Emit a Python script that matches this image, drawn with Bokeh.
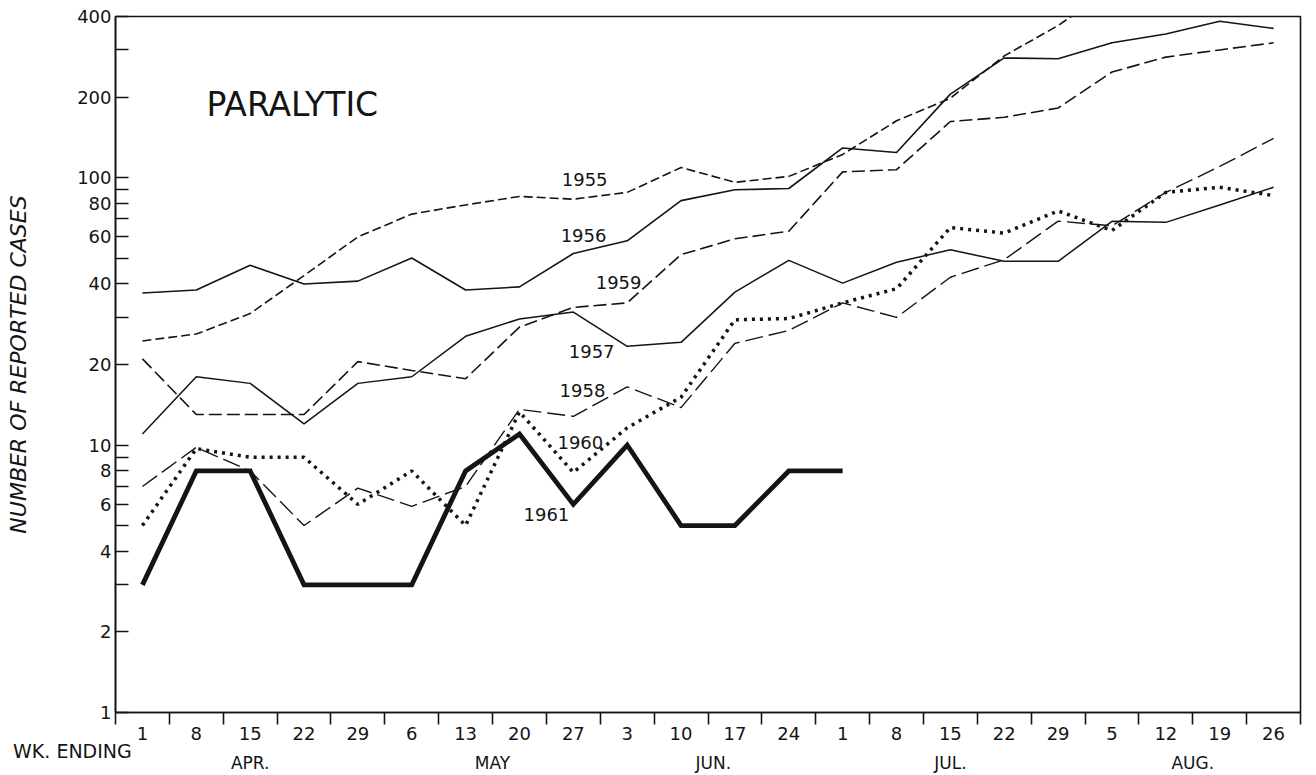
from bokeh.plotting import figure
from bokeh.models import FixedTicker, LinearAxis, Label, Range1d, NumeralTickFormatter
from bokeh.core.properties import value
from bokeh.embed import file_html
from bokeh.resources import INLINE

# ---- data ----
weeks = ["1", "8", "15", "22", "29", "6", "13", "20", "27", "3", "10", "17",
         "24", "1", "8", "15", "22", "29", "5", "12", "19", "26"]
months = ["APR.", "MAY", "JUN.", "JUL.", "AUG."]
month_pos = [2, 6.5, 10.6, 15, 19.5]

y1955 = [24.5, 26, 31, 43, 60, 73, 79, 85, 83, 88, 109, 96, 101, 122, 163, 198, 285, 370, 510]
y1956 = [37, 38, 47, 40, 41, 50, 38, 39, 52, 58, 82, 90, 91, 129, 124, 205, 280, 278, 319, 344, 384, 361]
y1957 = [11, 18, 17, 12, 17, 18, 25.5, 29.6, 31.4, 23.4, 24.2, 37.3, 49, 40.3, 48.2, 53.7, 48.6, 48.6, 68.6, 68, 79, 92]
y1958 = [7, 9.8, 8, 5, 6.9, 5.9, 7, 13.6, 12.8, 16.5, 13.8, 24, 26.8, 34, 30, 42.4, 49.3, 68.7, 66, 88, 110, 140]
y1959 = [21, 13, 13, 13, 20.5, 19, 17.7, 27.6, 32.7, 34, 51.5, 59, 63, 105, 107, 162, 168, 182, 248, 282, 300, 319]
y1960 = [5, 9.7, 9, 9, 6, 8, 5, 13.3, 7.9, 11.6, 15.1, 29.4, 29.7, 34, 38.4, 65, 62, 75, 63.4, 88, 92, 85.6]
y1961 = [3, 8, 8, 3, 3, 3, 8, 11, 6, 10, 5, 5, 8, 8]

y_major = [1, 2, 4, 6, 8, 10, 20, 40, 60, 80, 100, 200, 400]
y_minor = [3, 5, 7, 9, 30, 50, 70, 90, 300]

year_names = ["1955", "1956", "1959", "1957", "1958", "1960", "1961"]
year_lx = [8.21, 8.19, 8.84, 8.34, 8.17, 8.13, 7.50]
year_ly = [98, 60.7, 40.5, 22.4, 16, 10.2, 5.5]

FONT = "DejaVu Sans"
INK = "#141414"

p = figure(width=1316, height=775, y_axis_type="log",
           x_range=Range1d(-0.5, 21.5), y_range=Range1d(1, 400),
           output_backend="svg", toolbar_location=None,
           min_border_left=115, min_border_right=16, min_border_top=16, min_border_bottom=63)
p.grid.visible = False
p.background_fill_color = "white"
p.border_fill_color = "white"
p.outline_line_color = INK
p.outline_line_width = 1.6

# y axis
ya = p.yaxis[0]
ya.ticker = FixedTicker(ticks=y_major, minor_ticks=y_minor)
ya.formatter = NumeralTickFormatter(format="0")
ya.major_tick_in = 13
ya.major_tick_out = 0
ya.minor_tick_in = 13
ya.minor_tick_out = 0
ya.major_tick_line_width = 1.6
ya.minor_tick_line_width = 1.6
ya.major_tick_line_color = INK
ya.minor_tick_line_color = INK
ya.axis_line_width = 1.6
ya.axis_line_color = INK
ya.major_label_standoff = 4
ya.major_label_text_font = FONT
ya.major_label_text_font_size = "18px"
ya.major_label_text_color = INK
ya.axis_label = "NUMBER OF REPORTED CASES"
ya.axis_label_text_font = FONT
ya.axis_label_text_font_style = "italic"
ya.axis_label_text_font_size = "22px"
ya.axis_label_text_color = INK
ya.axis_label_standoff = 43

# x axis (weeks)
xa = p.xaxis[0]
xa.ticker = FixedTicker(ticks=list(range(len(weeks))),
                        minor_ticks=[i - 0.5 for i in range(len(weeks) + 1)])
xa.major_label_overrides = {i: w for i, w in enumerate(weeks)}
xa.major_tick_line_color = None
xa.major_tick_out = 0
xa.major_tick_in = 0
xa.minor_tick_out = 12
xa.minor_tick_in = 0
xa.minor_tick_line_width = 1.6
xa.minor_tick_line_color = INK
xa.axis_line_width = 1.6
xa.axis_line_color = INK
xa.major_label_standoff = 2
xa.major_label_text_font = FONT
xa.major_label_text_font_size = "18px"
xa.major_label_text_color = INK

# "WK. ENDING" sits in the bottom-left corner, outside the frame
p.add_layout(Label(x=-1.30, y=0.715, text="WK. ENDING", text_align="center",
                   text_baseline="middle", text_font=FONT, text_font_size="19px",
                   text_color=INK), "below")

# month axis (stacked after the label panel; negative standoff compensates)
ma = LinearAxis(ticker=FixedTicker(ticks=month_pos, minor_ticks=[]))
ma.major_label_overrides = {pos: m for pos, m in zip(month_pos, months)}
ma.axis_line_color = None
ma.major_tick_line_color = None
ma.minor_tick_line_color = None
ma.major_tick_out = 0
ma.major_tick_in = 0
ma.major_label_standoff = -12
ma.major_label_text_font = FONT
ma.major_label_text_font_size = "17px"
ma.major_label_text_color = INK
p.add_layout(ma, "below")

# series
def xs(arr):
    return list(range(len(arr)))

p.line(xs(y1955), y1955, line_color=INK, line_width=1.6, line_dash="9 4")
p.line(xs(y1956), y1956, line_color=INK, line_width=1.6)
p.line(xs(y1957), y1957, line_color=INK, line_width=1.5)
p.line(xs(y1958), y1958, line_color=INK, line_width=1.4, line_dash="18 6")
p.line(xs(y1959), y1959, line_color=INK, line_width=1.6, line_dash="13 5")
p.line(xs(y1960), y1960, line_color=INK, line_width=3.5, line_dash="3 5")
p.line(xs(y1961), y1961, line_color=INK, line_width=4.8, line_join="miter")

# labels
p.text(x=year_lx, y=year_ly, text=year_names, text_align="center", text_baseline="middle",
       text_font=value(FONT), text_font_size="18px", text_color=INK)
p.text(x=[1.19], y=[187.5], text=["PARALYTIC"], text_align="left", text_baseline="middle",
       text_font=value(FONT), text_font_size="33px", text_color=INK)

open("out.html", "w").write(file_html(p, INLINE))
